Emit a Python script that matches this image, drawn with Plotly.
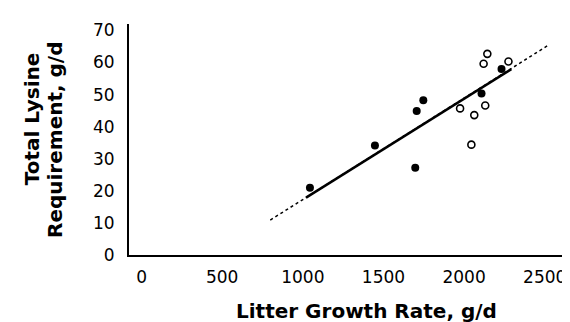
import plotly.graph_objects as go

# Data
filled_x = [1044, 1447, 1706, 1747, 1697, 2108, 2232]
filled_y = [21.0, 34.1, 44.9, 48.2, 27.2, 50.3, 58.0]
open_x = [1975, 2063, 2045, 2131, 2121, 2144, 2275]
open_y = [45.7, 43.6, 34.4, 46.6, 59.6, 62.7, 60.3]

fit_solid_x = [1020, 2293]
fit_solid_y = [17.9, 57.9]
fit_dotted_x = [798, 2529]
fit_dotted_y = [10.9, 65.6]

x_ticks = [0, 500, 1000, 1500, 2000, 2500]
y_ticks = [0, 10, 20, 30, 40, 50, 60, 70]

x_title = "Litter Growth Rate, g/d"
y_title_1 = "Total Lysine"
y_title_2 = "Requirement, g/d"

FONT = "DejaVu Sans"

fig = go.Figure()
fig.add_trace(go.Scatter(x=fit_dotted_x, y=fit_dotted_y, mode="lines",
                         line=dict(color="black", width=1.5, dash="dot"),
                         showlegend=False, hoverinfo="skip"))
fig.add_trace(go.Scatter(x=fit_solid_x, y=fit_solid_y, mode="lines",
                         line=dict(color="black", width=2.5),
                         showlegend=False, hoverinfo="skip"))
fig.add_trace(go.Scatter(x=filled_x, y=filled_y, mode="markers",
                         marker=dict(symbol="circle", size=8, color="black"),
                         showlegend=False))
fig.add_trace(go.Scatter(x=open_x, y=open_y, mode="markers",
                         marker=dict(symbol="circle-open", size=7, color="black",
                                     line=dict(width=1.6, color="black")),
                         showlegend=False))

fig.update_layout(
    width=570, height=322,
    margin=dict(l=121, r=13, t=15, b=75),
    paper_bgcolor="white", plot_bgcolor="white",
    font=dict(family=FONT, color="black"),
    xaxis=dict(range=[-78, 2607], showline=True, linecolor="black", linewidth=2,
               showgrid=False, zeroline=False, tickvals=x_ticks,
               ticktext=[str(v) for v in x_ticks], ticks="",
               ticklabelstandoff=6, tickfont=dict(family=FONT, size=17, color="black")),
    yaxis=dict(range=[0, 72], showline=True, linecolor="black", linewidth=2,
               showgrid=False, zeroline=False, tickvals=y_ticks,
               ticktext=[str(v) for v in y_ticks], ticks="",
               ticklabelstandoff=9, tickfont=dict(family=FONT, size=17, color="black")),
    annotations=[
        dict(text="<b>%s</b>" % x_title, xref="paper", yref="paper",
             x=(360 - 121) / (557 - 121), y=-(303 - 247) / (247 - 15),
             xanchor="center", yanchor="middle", showarrow=False,
             font=dict(family=FONT, size=20, color="black")),
        dict(text="<b>%s</b>" % y_title_1, xref="paper", yref="paper",
             x=(23 - 121) / (557 - 121), y=(247 - 110) / (247 - 15),
             xanchor="center", yanchor="middle", showarrow=False, textangle=-90,
             font=dict(family=FONT, size=20, color="black")),
        dict(text="<b>%s</b>" % y_title_2, xref="paper", yref="paper",
             x=(46 - 121) / (557 - 121), y=(247 - 131) / (247 - 15),
             xanchor="center", yanchor="middle", showarrow=False, textangle=-90,
             font=dict(family=FONT, size=20, color="black")),
    ],
)

fig.write_html("out.html")
